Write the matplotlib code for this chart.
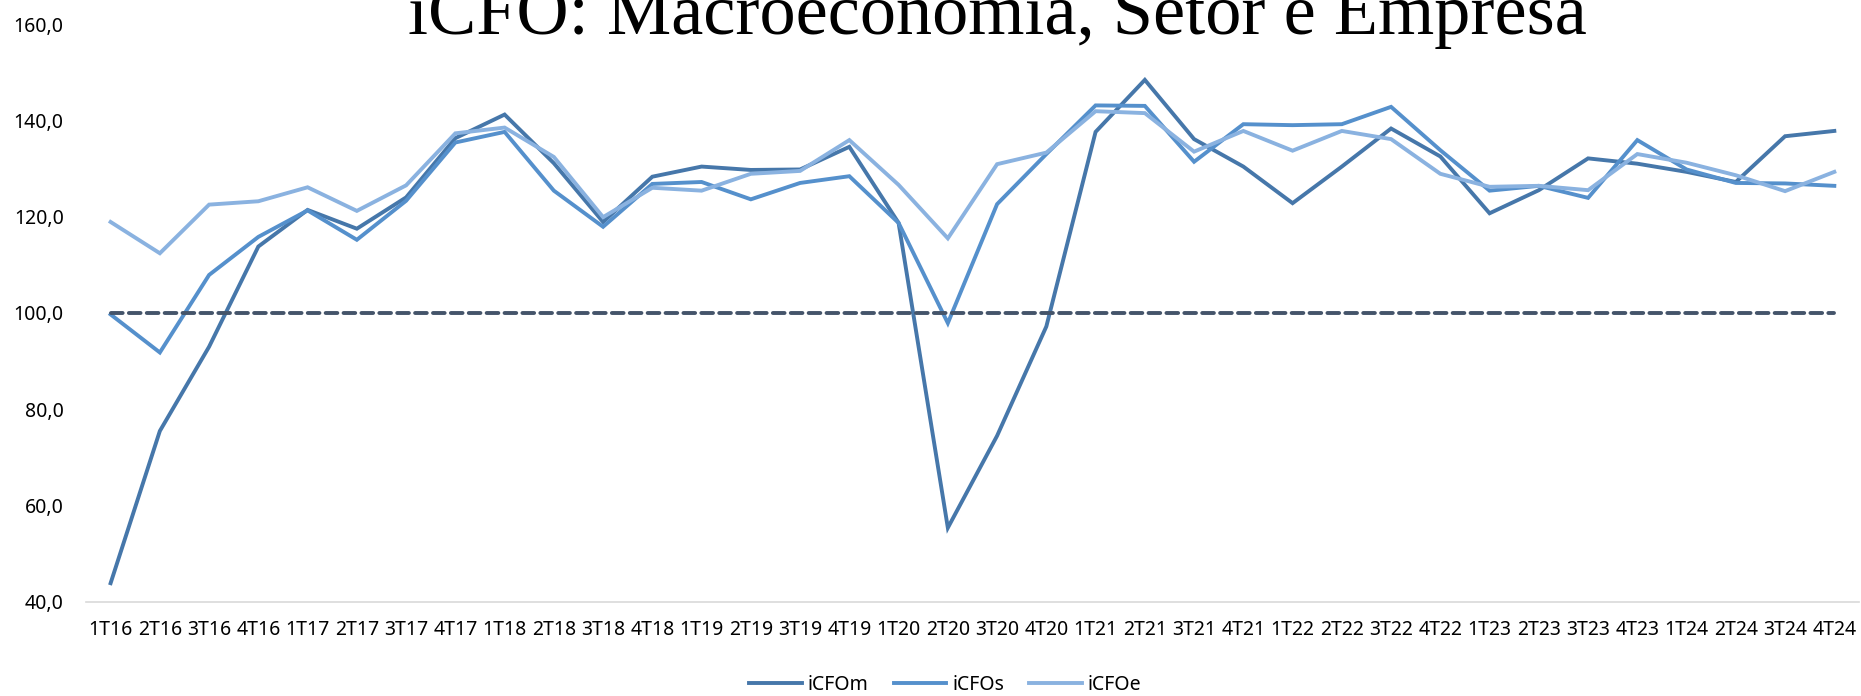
import matplotlib
matplotlib.use('Agg')
import matplotlib.pyplot as plt
from matplotlib.ticker import FuncFormatter

# Quarter labels
quarters = ['1T16', '2T16', '3T16', '4T16', '1T17', '2T17', '3T17', '4T17',
            '1T18', '2T18', '3T18', '4T18', '1T19', '2T19', '3T19', '4T19',
            '1T20', '2T20', '3T20', '4T20', '1T21', '2T21', '3T21', '4T21',
            '1T22', '2T22', '3T22', '4T22', '1T23', '2T23', '3T23', '4T23',
            '1T24', '2T24', '3T24', '4T24']

# Series values
icfo_m = [43.9, 75.5, 93.0, 113.8, 121.4, 117.5, 124.0, 136.3,
          141.2, 131.1, 118.9, 128.3, 130.4, 129.7, 129.8, 134.5,
          118.7, 55.4, 74.5, 97.2, 137.6, 148.4, 136.1, 130.4,
          122.8, 130.4, 138.3, 132.5, 120.7, 125.5, 132.1, 131.0,
          129.3, 127.2, 136.7, 137.8]
icfo_s = [99.7, 91.8, 107.9, 115.8, 121.3, 115.2, 123.3, 135.4,
          137.6, 125.4, 117.9, 126.8, 127.2, 123.6, 127.0, 128.4,
          118.7, 97.9, 122.6, 133.0, 143.1, 143.0, 131.4, 139.2,
          139.0, 139.2, 142.8, 133.8, 125.4, 126.4, 123.9, 135.9,
          129.8, 127.0, 126.9, 126.4]
icfo_e = [118.9, 112.4, 122.5, 123.2, 126.1, 121.2, 126.5, 137.3,
          138.5, 132.4, 119.9, 126.0, 125.4, 128.9, 129.5, 135.9,
          126.6, 115.5, 130.9, 133.3, 141.9, 141.5, 133.5, 137.8,
          133.7, 137.8, 136.1, 128.9, 126.2, 126.4, 125.5, 133.0,
          131.2, 128.6, 125.3, 129.3]
baseline = [100.0] * len(quarters)

series_names = ['iCFOm', 'iCFOs', 'iCFOe']
colors = ['#4677aa', '#5590cc', '#8ab2e0']

plt.rcParams['font.family'] = ['Noto Sans', 'DejaVu Sans']

fig = plt.figure(figsize=(18.61, 6.96), dpi=100)
ax = fig.add_axes([0.0462, 0.1351, 0.9527, 0.8304])

x = list(range(len(quarters)))
for name, values, color in zip(series_names, [icfo_m, icfo_s, icfo_e], colors):
    ax.plot(x, values, color=color, linewidth=2.8, label=name,
            solid_joinstyle='miter')

# Reference line at 100
ax.plot(x, baseline, color='#44546a', linewidth=2.8,
        linestyle=(0, (3.0, 1.6)), dash_capstyle='round')

ax.set_xlim(-0.5, len(quarters) - 0.5)
ax.set_ylim(40, 160)
ax.set_yticks(range(40, 161, 20))
ax.yaxis.set_major_formatter(FuncFormatter(lambda v, p: f'{v:.1f}'.replace('.', ',')))
ax.set_xticks(x)
ax.set_xticklabels(quarters)

ax.tick_params(axis='x', length=0, pad=13, labelsize=14, colors='#000000')
ax.tick_params(axis='y', length=0, pad=16, labelsize=14, colors='#000000')

for side in ['top', 'right', 'left']:
    ax.spines[side].set_visible(False)
ax.spines['bottom'].set_color('#d9d9d9')
ax.spines['bottom'].set_linewidth(1.2)
ax.spines['bottom'].set_zorder(0)

# Title, partly cut off at the top like the original
fig.text(0.536, 0.951, 'iCFO: Macroeconomia, Setor e Empresa',
         family='Liberation Serif', fontsize=52, color='black',
         ha='center', va='baseline')

ax.legend(loc='center', bbox_to_anchor=(0.508, 0.016),
          bbox_transform=fig.transFigure, ncol=3, frameon=False,
          fontsize=14, handlelength=2.7, handletextpad=0.3,
          columnspacing=1.3)

fig.savefig('out.png', dpi=100)
